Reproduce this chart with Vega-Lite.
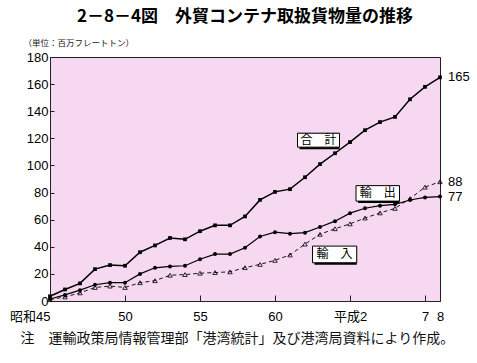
{
  "$schema": "https://vega.github.io/schema/vega-lite/v6.json",
  "width": 390,
  "height": 244,
  "autosize": "none",
  "padding": {"left": 50, "top": 57, "right": 37, "bottom": 62},
  "background": "#ffffff",
  "config": {
    "view": {"fill": "#f6d8f1", "stroke": "#1e1e1e", "strokeWidth": 1},
    "font": "Liberation Sans, Noto Sans CJK JP",
    "axis": {"domainColor": "#222222", "tickColor": "#222222", "labelColor": "#000000", "grid": false}
  },
  "title": {
    "text": "2－8－4図　外貿コンテナ取扱貨物量の推移",
    "font": "Noto Sans CJK JP",
    "fontSize": 17,
    "fontWeight": "bold",
    "anchor": "middle",
    "color": "#000000",
    "offset": 12
  },
  "datasets": {
    "main": [
      {"year": 1970, "series": "合計", "value": 3.5},
      {"year": 1971, "series": "合計", "value": 8.5},
      {"year": 1972, "series": "合計", "value": 13},
      {"year": 1973, "series": "合計", "value": 23.5},
      {"year": 1974, "series": "合計", "value": 26.5},
      {"year": 1975, "series": "合計", "value": 26},
      {"year": 1976, "series": "合計", "value": 36},
      {"year": 1977, "series": "合計", "value": 41},
      {"year": 1978, "series": "合計", "value": 46.5},
      {"year": 1979, "series": "合計", "value": 45.5},
      {"year": 1980, "series": "合計", "value": 51.5},
      {"year": 1981, "series": "合計", "value": 55.8},
      {"year": 1982, "series": "合計", "value": 55.8},
      {"year": 1983, "series": "合計", "value": 62.4},
      {"year": 1984, "series": "合計", "value": 74.6},
      {"year": 1985, "series": "合計", "value": 80.5},
      {"year": 1986, "series": "合計", "value": 82.5},
      {"year": 1987, "series": "合計", "value": 91.3},
      {"year": 1988, "series": "合計", "value": 101},
      {"year": 1989, "series": "合計", "value": 109},
      {"year": 1990, "series": "合計", "value": 117.2},
      {"year": 1991, "series": "合計", "value": 126},
      {"year": 1992, "series": "合計", "value": 132},
      {"year": 1993, "series": "合計", "value": 135.8},
      {"year": 1994, "series": "合計", "value": 148.8},
      {"year": 1995, "series": "合計", "value": 158},
      {"year": 1996, "series": "合計", "value": 165},
      {"year": 1970, "series": "輸出", "value": 1.5},
      {"year": 1971, "series": "輸出", "value": 4.5},
      {"year": 1972, "series": "輸出", "value": 8},
      {"year": 1973, "series": "輸出", "value": 12},
      {"year": 1974, "series": "輸出", "value": 13.5},
      {"year": 1975, "series": "輸出", "value": 13.5},
      {"year": 1976, "series": "輸出", "value": 20},
      {"year": 1977, "series": "輸出", "value": 24.5},
      {"year": 1978, "series": "輸出", "value": 25.5},
      {"year": 1979, "series": "輸出", "value": 26},
      {"year": 1980, "series": "輸出", "value": 30.8},
      {"year": 1981, "series": "輸出", "value": 34.6},
      {"year": 1982, "series": "輸出", "value": 34.6},
      {"year": 1983, "series": "輸出", "value": 39.3},
      {"year": 1984, "series": "輸出", "value": 47.6},
      {"year": 1985, "series": "輸出", "value": 50.8},
      {"year": 1986, "series": "輸出", "value": 49.7},
      {"year": 1987, "series": "輸出", "value": 50.4},
      {"year": 1988, "series": "輸出", "value": 54.6},
      {"year": 1989, "series": "輸出", "value": 58.9},
      {"year": 1990, "series": "輸出", "value": 64.8},
      {"year": 1991, "series": "輸出", "value": 68.4},
      {"year": 1992, "series": "輸出", "value": 70.3},
      {"year": 1993, "series": "輸出", "value": 71.3},
      {"year": 1994, "series": "輸出", "value": 74.5},
      {"year": 1995, "series": "輸出", "value": 76.4},
      {"year": 1996, "series": "輸出", "value": 77},
      {"year": 1970, "series": "輸入", "value": 1},
      {"year": 1971, "series": "輸入", "value": 3},
      {"year": 1972, "series": "輸入", "value": 6},
      {"year": 1973, "series": "輸入", "value": 10},
      {"year": 1974, "series": "輸入", "value": 11},
      {"year": 1975, "series": "輸入", "value": 10},
      {"year": 1976, "series": "輸入", "value": 13.5},
      {"year": 1977, "series": "輸入", "value": 15},
      {"year": 1978, "series": "輸入", "value": 19},
      {"year": 1979, "series": "輸入", "value": 19.5},
      {"year": 1980, "series": "輸入", "value": 20.5},
      {"year": 1981, "series": "輸入", "value": 21},
      {"year": 1982, "series": "輸入", "value": 21.5},
      {"year": 1983, "series": "輸入", "value": 24.6},
      {"year": 1984, "series": "輸入", "value": 27},
      {"year": 1985, "series": "輸入", "value": 30},
      {"year": 1986, "series": "輸入", "value": 34},
      {"year": 1987, "series": "輸入", "value": 42},
      {"year": 1988, "series": "輸入", "value": 49.2},
      {"year": 1989, "series": "輸入", "value": 53.3},
      {"year": 1990, "series": "輸入", "value": 56.9},
      {"year": 1991, "series": "輸入", "value": 61.2},
      {"year": 1992, "series": "輸入", "value": 65},
      {"year": 1993, "series": "輸入", "value": 68.3},
      {"year": 1994, "series": "輸入", "value": 75.5},
      {"year": 1995, "series": "輸入", "value": 84},
      {"year": 1996, "series": "輸入", "value": 88}
    ],
    "notes": [
      {"label": "合　計", "year": 1986.5, "year_end": 1989.3, "value": 113.5, "value_top": 123.8, "year_mid": 1987.9, "value_mid": 118.6},
      {"label": "輸　出", "year": 1990.4, "year_end": 1993.3, "value": 73.7, "value_top": 85.1, "year_mid": 1991.85, "value_mid": 79.4},
      {"label": "輸　入", "year": 1987.5, "year_end": 1990.45, "value": 28.2, "value_top": 40.5, "year_mid": 1988.97, "value_mid": 34.35}
    ]
  },
  "data": {"name": "main"},
  "encoding": {
    "x": {
      "field": "year",
      "type": "quantitative",
      "scale": {"domain": [1970, 1996], "nice": false, "zero": false},
      "axis": {
        "values": [1970, 1975, 1980, 1985, 1990, 1995, 1996],
        "labelExpr": "datum.value == 1970 ? '昭和45' : datum.value == 1975 ? '50' : datum.value == 1980 ? '55' : datum.value == 1985 ? '60' : datum.value == 1990 ? '平成2' : datum.value == 1995 ? '7' : '8'",
        "labelAlign": {"condition": {"test": "datum.value == 1970", "value": "right"}, "value": "center"},
        "labelFlush": false,
        "labelOverlap": false,
        "labelBound": false,
        "tickSize": -6,
        "labelPadding": 15,
        "labelFontSize": 13,
        "labelFont": "Liberation Sans, Noto Sans CJK JP",
        "title": "注　運輸政策局情報管理部「港湾統計」及び港湾局資料により作成。",
        "titleX": -30,
        "titleY": 37,
        "titleAlign": "left",
        "titleAnchor": "start",
        "titleBaseline": "middle",
        "titleFontSize": 14,
        "titleFontWeight": "normal",
        "titleFont": "Noto Sans CJK JP",
        "titleColor": "#111111"
      }
    },
    "y": {
      "field": "value",
      "type": "quantitative",
      "scale": {"domain": [0, 180], "nice": false},
      "axis": {
        "values": [0, 20, 40, 60, 80, 100, 120, 140, 160, 180],
        "tickSize": -4,
        "labelPadding": 6,
        "labelFontSize": 13,
        "labelFont": "Liberation Sans",
        "title": "（単位：百万フレートトン）",
        "titleAngle": 0,
        "titleX": -27,
        "titleY": -15,
        "titleAlign": "left",
        "titleAnchor": "start",
        "titleBaseline": "middle",
        "titleFontSize": 8.5,
        "titleFontWeight": "normal",
        "titleFont": "Noto Sans CJK JP",
        "titleColor": "#222222"
      }
    }
  },
  "layer": [
    {
      "transform": [{"filter": "datum.series == '合計'"}],
      "mark": {"type": "line", "color": "#000000", "strokeWidth": 1.5}
    },
    {
      "transform": [{"filter": "datum.series == '合計'"}],
      "mark": {"type": "point", "shape": "square", "filled": true, "size": 14, "color": "#000000", "opacity": 1}
    },
    {
      "transform": [{"filter": "datum.series == '輸出'"}],
      "mark": {"type": "line", "color": "#000000", "strokeWidth": 1.2}
    },
    {
      "transform": [{"filter": "datum.series == '輸出'"}],
      "mark": {"type": "point", "shape": "circle", "filled": true, "size": 16, "color": "#000000", "opacity": 1}
    },
    {
      "transform": [{"filter": "datum.series == '輸入'"}],
      "mark": {"type": "line", "color": "#000000", "strokeWidth": 0.9, "strokeDash": [4, 3]}
    },
    {
      "transform": [{"filter": "datum.series == '輸入'"}],
      "mark": {"type": "point", "shape": "triangle-up", "filled": false, "size": 20, "color": "#000000", "strokeWidth": 0.8, "opacity": 1}
    },
    {
      "transform": [{"filter": "datum.year == 1996"}],
      "mark": {"type": "text", "align": "left", "baseline": "middle", "dx": 8, "fontSize": 13, "font": "Liberation Sans", "color": "#000000"},
      "encoding": {"text": {"field": "value", "type": "quantitative"}}
    },
    {
      "data": {"name": "notes"},
      "mark": {"type": "rect", "color": "#000000", "xOffset": 2, "yOffset": 2},
      "encoding": {
        "x2": {"field": "year_end"},
        "y2": {"field": "value_top"}
      }
    },
    {
      "data": {"name": "notes"},
      "mark": {"type": "rect", "fill": "#ffffff", "stroke": "#000000", "strokeWidth": 1},
      "encoding": {
        "x2": {"field": "year_end"},
        "y2": {"field": "value_top"}
      }
    },
    {
      "data": {"name": "notes"},
      "mark": {"type": "text", "align": "center", "baseline": "middle", "fontSize": 12, "font": "Noto Sans CJK JP", "color": "#000000"},
      "encoding": {
        "x": {"field": "year_mid", "type": "quantitative"},
        "y": {"field": "value_mid", "type": "quantitative"},
        "text": {"field": "label", "type": "nominal"}
      }
    }
  ]
}
